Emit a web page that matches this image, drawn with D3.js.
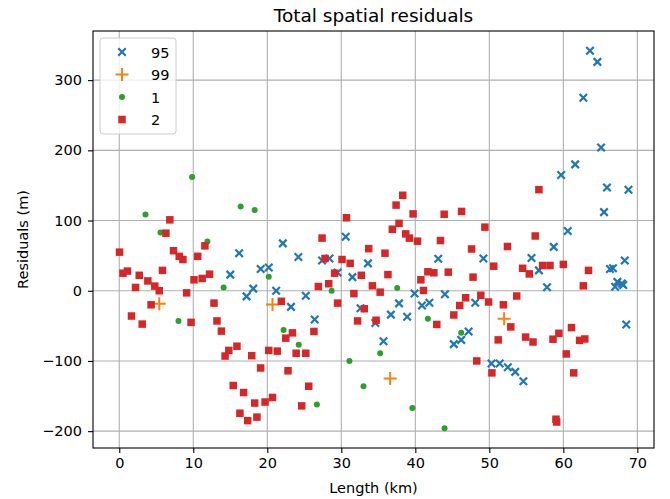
<!DOCTYPE html>
<meta charset="utf-8">
<script src="https://d3js.org/d3.v7.min.js"></script>
<style>
  body { margin: 0; background: #fff; }
  text { font-family: "DejaVu Sans", sans-serif; fill: #000; }
</style>
<body>
<div id="chart"></div>
<script>

// values: [length km, residual m]
var s95 = [
  [16.2,53.5],[15.0,23],[19.1,31],[20.2,33],[22.1,67.5],[18.1,3],[17.2,-8],[21.2,0],
  [24.2,48],[27.4,43],[28.4,46],[30.6,77],[33.6,39],[29.5,26],[31.5,19.4],[43.1,45.5],
  [25.2,-7],[23.2,-23],[32.6,-25],[39.9,-4],[44.0,-5],[37.8,-18],[40.9,-21],[41.9,-17],
  [36.7,-34],[38.9,-37],[26.4,-41],[34.6,-46],[35.7,-72],[45.2,-76],[46.2,-70],
  [63.6,342],[64.6,326],[62.7,275],[65.1,204],[61.6,180],[59.7,165],[65.9,147],[68.8,144],
  [65.5,112],[60.6,85],[58.7,62.5],[55.7,46.7],[49.2,46],[56.7,29],[57.8,5],[68.3,43],
  [66.3,31],[66.7,32],[67.3,12.6],[67.9,10.2],[67.0,5.8],[68.1,8.2],[48.1,-17],[68.5,-48],
  [47.2,-58],[50.3,-103.7],[51.4,-103.7],[52.5,-109],[53.5,-115.6],[54.6,-129]
];
var s99 = [[5.4,-18.5],[20.7,-19.5],[36.6,-125],[52.0,-40]];
var s1 = [
  [9.84,162],[3.54,108.5],[16.4,120],[18.3,115],[5.57,83],[11.9,70],[20.2,20],[14.1,4.7],
  [8.0,-43],[22.2,-56],[24.25,-77],[26.7,-162],[35.25,-89],[31.1,-100],[33.0,-136],
  [39.6,-167],[43.95,-196],[41.7,-40],[46.2,-60],[28.7,0],[37.55,4]
];
var s2 = [
  [6.83,101],[6.3,82],[0.03,55],[7.33,57],[8.1,49],[8.6,44.5],[11.57,64],[10.6,49],
  [0.5,25],[1.1,28],[2.7,22],[3.86,14],[4.8,6.6],[5.4,0],[2.2,4.7],[5.84,29],
  [10.1,15.6],[11.2,17.5],[12.2,23.6],[9.1,-3],[12.8,-17.6],[4.3,-20],[1.65,-36],[3.1,-47.5],
  [9.7,-45],[13.2,-43],[13.8,-57.5],[14.8,-85],[14.3,-93],[15.9,-79],[17.9,-92.5],[20.2,-85],
  [21.35,-86],[19.1,-110],[15.4,-135],[16.8,-145],[18.3,-160],[19.7,-158.5],[20.7,-152],
  [16.3,-174.5],[17.35,-185],[18.6,-180],
  [38.3,136],[37.4,122],[39.7,109.5],[43.9,109],[46.25,113],[30.7,104],[37.8,96],[36.9,87.6],
  [38.7,81],[39.2,75],[40.3,70.6],[43.4,71.5],[27.4,75],[33.7,60],[35.9,53.5],[27.8,46],
  [30.1,44.5],[31.2,39],[29.1,25],[32.7,22],[36.3,23],[41.7,27],[42.5,25.6],[44.45,26.5],
  [40.75,15.6],[28.3,10],[26.9,6],[34.2,7],[41.1,0.4],[35.25,-2],[31.7,-4],[46.8,-10],
  [21.9,-15],[29.5,-17.6],[33.1,-25.6],[46.0,-21],[45.2,-34.5],[23.4,-60],[22.5,-67.5],
  [26.3,-58],[23.9,-89],[25.2,-89],[22.8,-114],[25.6,-136],[24.65,-164],[32.2,-43],
  [34.7,-42],[42.9,-48],
  [56.7,144],[49.4,90.6],[56.2,78],[52.45,63],[47.6,59.5],[50.6,35],[54.5,32],[55.4,24],
  [57.2,36],[58.2,36],[60.0,37.5],[63.4,29],[62.7,7],[47.8,19.4],[53.7,-7.5],[48.85,-6.5],
  [49.9,-16],[51.9,-20],[52.9,-51.5],[51.2,-70],[54.9,-66],[55.9,-73],[58.6,-69],[59.4,-60.6],
  [61.1,-52.5],[62.2,-70.7],[62.9,-68.7],[60.4,-90],[61.4,-117],[48.3,-100],[50.35,-117],
  [59.0,-183],[59.1,-187]
];

var xTicks = [0, 10, 20, 30, 40, 50, 60, 70];
var yTicks = [-200, -100, 0, 100, 200, 300];
var seriesNames = ['95', '99', '1', '2'];
var seriesColors = ['#1f77b4', '#ff7f0e', '#2ca02c', '#d62728'];

var W = 670, H = 499;
var margin = {top: 31, right: 16, bottom: 51, left: 93};
var width = W - margin.left - margin.right,
    height = H - margin.top - margin.bottom;

var svg = d3.select('#chart').append('svg')
    .attr('width', W).attr('height', H);

var g = svg.append('g')
    .attr('transform', 'translate(' + margin.left + ',' + margin.top + ')');

var x = d3.scaleLinear().domain([-3.55, 72.25]).range([0, width]);
var y = d3.scaleLinear().domain([-224, 370]).range([height, 0]);

// grid
g.append('g').selectAll('line').data(xTicks).enter().append('line')
    .attr('x1', d => x(d)).attr('x2', d => x(d))
    .attr('y1', 0).attr('y2', height)
    .attr('stroke', '#b0b0b0').attr('stroke-width', 1.1);
g.append('g').selectAll('line').data(yTicks).enter().append('line')
    .attr('y1', d => y(d)).attr('y2', d => y(d))
    .attr('x1', 0).attr('x2', width)
    .attr('stroke', '#b0b0b0').attr('stroke-width', 1.1);

// markers
function drawX(sel, size, color) {
  var h = size / 2;
  sel.append('path')
    .attr('d', 'M' + (-h) + ',' + (-h) + 'L' + h + ',' + h + 'M' + (-h) + ',' + h + 'L' + h + ',' + (-h))
    .attr('stroke', color).attr('stroke-width', 2.2).attr('fill', 'none');
}
function drawPlus(sel, size, color) {
  var h = size / 2;
  sel.append('path')
    .attr('d', 'M' + (-h) + ',0L' + h + ',0M0,' + (-h) + 'L0,' + h)
    .attr('stroke', color).attr('stroke-width', 2).attr('fill', 'none');
}
function drawDot(sel, size, color) {
  sel.append('circle').attr('r', size / 2).attr('fill', color);
}
function drawSquare(sel, size, color) {
  sel.append('rect')
    .attr('x', -size / 2).attr('y', -size / 2)
    .attr('width', size).attr('height', size)
    .attr('fill', color);
}

var drawers = [
  function(s) { drawX(s, 7.5, seriesColors[0]); },
  function(s) { drawPlus(s, 13, seriesColors[1]); },
  function(s) { drawDot(s, 6, seriesColors[2]); },
  function(s) { drawSquare(s, 7.5, seriesColors[3]); }
];

[s95, s99, s1, s2].forEach(function(data, i) {
  var pts = g.append('g').selectAll('g').data(data).enter().append('g')
      .attr('transform', d => 'translate(' + x(d[0]) + ',' + y(d[1]) + ')');
  drawers[i](pts);
});

// axes
var xAxis = g.append('g')
    .attr('transform', 'translate(0,' + height + ')')
    .call(d3.axisBottom(x).tickValues(xTicks).tickSize(5).tickPadding(5));
var yAxis = g.append('g')
    .call(d3.axisLeft(y).tickValues(yTicks).tickSize(5).tickPadding(6));
[xAxis, yAxis].forEach(function(a) {
  a.select('.domain').remove();
  a.selectAll('line').attr('stroke', '#000').attr('stroke-width', 1.1);
  a.selectAll('text').attr('font-size', '14.5px')
      .attr('font-family', '"DejaVu Sans", sans-serif').attr('fill', '#000');
});

g.append('rect')
    .attr('width', width).attr('height', height)
    .attr('fill', 'none').attr('stroke', '#000').attr('stroke-width', 1.1);

// labels
svg.append('text')
    .attr('x', margin.left + width / 2).attr('y', 22)
    .attr('text-anchor', 'middle').attr('font-size', '18.5px')
    .text('Total spatial residuals');
svg.append('text')
    .attr('x', margin.left + width / 2).attr('y', 493)
    .attr('text-anchor', 'middle').attr('font-size', '14.5px')
    .text('Length (km)');
svg.append('text')
    .attr('transform', 'translate(28,' + (margin.top + height / 2) + ')rotate(-90)')
    .attr('text-anchor', 'middle').attr('font-size', '14.5px')
    .text('Residuals (m)');

// legend
var legend = svg.append('g').attr('transform', 'translate(100,38)');
legend.append('rect')
    .attr('width', 76).attr('height', 96).attr('rx', 3)
    .attr('fill', '#fff').attr('fill-opacity', 0.8)
    .attr('stroke', '#ccc').attr('stroke-width', 1);
seriesNames.forEach(function(name, i) {
  var row = legend.append('g').attr('transform', 'translate(22,' + (14 + i * 22.5) + ')');
  drawers[i](row);
  row.append('text').attr('x', 29).attr('y', 5.5)
      .attr('font-size', '14.5px').text(name);
});

</script>
</body>
